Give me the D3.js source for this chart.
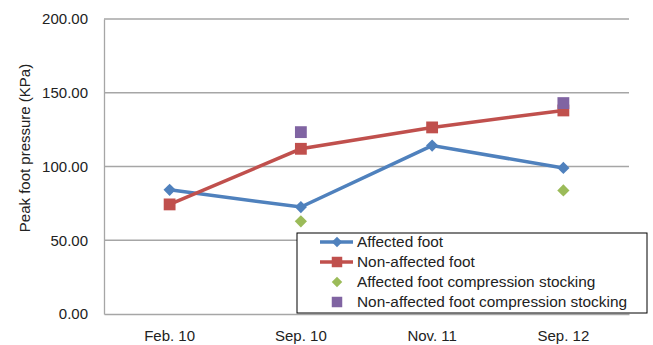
<!DOCTYPE html>
<html>
<head>
<meta charset="utf-8">
<script src="https://cdn.jsdelivr.net/npm/d3@7"></script>
<style>
  body { margin: 0; background: #fff; }
  text { font-family: "Liberation Sans", Arial, sans-serif; fill: #222; }
</style>
</head>
<body>
<div id="chart"></div>
<script>
const categories = ['Feb. 10', 'Sep. 10', 'Nov. 11', 'Sep. 12'];
const affected = [84.2, 72.5, 114.2, 99.0];
const nonAffected = [74.3, 112.0, 126.5, 138.0];
// compression stocking, only measured on two dates
const affectedCS = [null, 62.8, null, 83.8];
const nonAffectedCS = [null, 123.3, null, 143.0];
const yTicks = [0, 50, 100, 150, 200];

const width = 653;
const height = 345;
const margin = {top: 19, right: 24, bottom: 31, left: 104};

const svg = d3.select('#chart')
    .append('svg')
        .attr('width', width)
        .attr('height', height);

const x = d3.scaleBand()
    .domain(categories)
    .range([margin.left, width - margin.right]);
const y = d3.scaleLinear()
    .domain([0, 200])
    .range([height - margin.bottom, margin.top]);

// grid
svg.append('g')
    .selectAll('line')
    .data(yTicks.slice(1))
    .join('line')
        .attr('x1', margin.left)
        .attr('x2', width - margin.right)
        .attr('y1', d => y(d))
        .attr('y2', d => y(d))
        .attr('stroke', '#a6a6a6')
        .attr('stroke-width', 1.3);

// axes
const yAxis = g => g
    .attr('transform', `translate(${margin.left},0)`)
    .call(d3.axisLeft(y).tickValues(yTicks).tickFormat(d3.format('.2f')).tickSize(0).tickPadding(16))
    .call(g => g.select('.domain').attr('stroke', '#a6a6a6').attr('stroke-width', 1.3))
    .call(g => g.selectAll('.tick text').style('font-size', '15px').attr('fill', '#222'));
const xAxis = g => g
    .attr('transform', `translate(0,${height - margin.bottom})`)
    .call(d3.axisBottom(x).tickSize(0).tickPadding(16))
    .call(g => g.select('.domain').attr('stroke', '#a6a6a6').attr('stroke-width', 1.3))
    .call(g => g.selectAll('.tick text').style('font-size', '15px').attr('fill', '#222'));

svg.append('g').call(yAxis);
svg.append('g').call(xAxis);

svg.append('text')
    .attr('transform', 'translate(30,148) rotate(-90)')
    .attr('text-anchor', 'middle')
    .style('font-size', '15px')
    .text('Peak foot pressure (KPa)');

const cx = i => x(categories[i]) + x.bandwidth() / 2;
const diamond = d3.symbol().type(d3.symbolDiamond2).size(95);
const square = d3.symbol().type(d3.symbolSquare).size(140);
const diamondSm = d3.symbol().type(d3.symbolDiamond2).size(70);
const squareSm = d3.symbol().type(d3.symbolSquare).size(110);

const series = [
    {name: 'Affected foot', values: affected, color: '#4f81bd', line: true, shape: diamond, legendShape: diamondSm},
    {name: 'Non-affected foot', values: nonAffected, color: '#c0504d', line: true, shape: square, legendShape: squareSm},
    {name: 'Affected foot compression stocking', values: affectedCS, color: '#9bbb59', line: false, shape: diamond, legendShape: diamondSm},
    {name: 'Non-affected foot compression stocking', values: nonAffectedCS, color: '#8064a2', line: false, shape: square, legendShape: squareSm}
];

const line = d3.line()
    .x((d, i) => cx(i))
    .y(d => y(d));

series.forEach(s => {
    if (s.line) {
        svg.append('path')
            .datum(s.values)
            .attr('fill', 'none')
            .attr('stroke', s.color)
            .attr('stroke-width', 3.5)
            .attr('d', line);
    }
});
series.forEach(s => {
    svg.append('g')
        .selectAll('path')
        .data(s.values.map((v, i) => ({v, i})).filter(d => d.v != null))
        .join('path')
            .attr('transform', d => `translate(${cx(d.i)},${y(d.v)})`)
            .attr('fill', s.color)
            .attr('d', s.shape);
});

// legend
const lg = svg.append('g').attr('transform', 'translate(297,233)');
lg.append('rect')
    .attr('width', 350)
    .attr('height', 80)
    .attr('fill', '#fff')
    .attr('stroke', '#000')
    .attr('stroke-width', 1);
series.forEach((s, i) => {
    const yy = 9 + i * 20;
    if (s.line) {
        lg.append('line')
            .attr('x1', 23).attr('x2', 56)
            .attr('y1', yy).attr('y2', yy)
            .attr('stroke', s.color)
            .attr('stroke-width', 3.5);
    }
    lg.append('path')
        .attr('transform', `translate(40,${yy})`)
        .attr('fill', s.color)
        .attr('d', s.legendShape);
    lg.append('text')
        .attr('x', 60)
        .attr('y', yy)
        .attr('dy', '0.35em')
        .style('font-size', '15.4px')
        .text(s.name);
});
</script>
</body>
</html>
